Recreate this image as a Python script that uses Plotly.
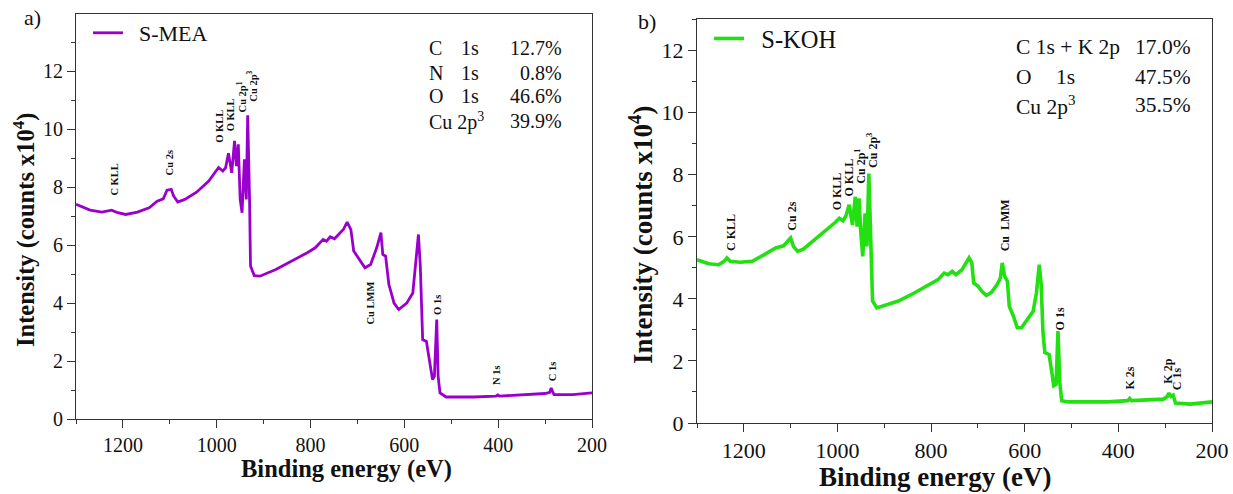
import plotly.graph_objects as go

W, H = 1233, 494

# ---------------- data ----------------
mea_be = [1300, 1270, 1245, 1224, 1211, 1194, 1169, 1144, 1127, 1114, 1106, 1097, 1092, 1083,
          1068, 1043, 1017, 1002, 996, 987, 981, 975, 968, 962, 958, 954, 950, 946, 941, 937,
          934, 930, 928, 920, 908, 874, 832, 807, 790, 773, 766, 758, 749, 739, 730, 722, 714,
          708, 701, 693, 684, 672, 659, 650, 646, 640, 633, 629, 622, 612, 595, 582, 576, 570,
          566, 561, 553, 549, 540, 536, 531, 528, 524, 511, 452, 405, 401, 397, 368, 300, 290,
          287, 284, 281, 241, 200]
mea_int = [7.41, 7.21, 7.14, 7.21, 7.12, 7.06, 7.14, 7.29, 7.52, 7.60, 7.90, 7.93, 7.70, 7.49,
           7.58, 7.83, 8.21, 8.53, 8.68, 8.56, 8.68, 9.17, 8.50, 9.60, 8.73, 9.48, 7.58, 7.12, 8.96, 7.58,
           10.48, 7.58, 5.28, 4.95, 4.93, 5.16, 5.51, 5.74, 5.91, 6.20, 6.14, 6.29, 6.22, 6.37, 6.54, 6.80, 6.54,
           5.80, 5.62, 5.45, 5.22, 5.33, 5.91, 6.43, 5.68, 5.62, 4.64, 4.41, 4.00, 3.78, 4.00, 4.35, 5.39, 6.37,
           5.28, 2.74, 2.68, 2.28, 1.36, 1.47, 3.43, 1.47, 0.90, 0.76, 0.76, 0.79, 0.83, 0.79, 0.81, 0.88, 0.92,
           1.07, 0.95, 0.84, 0.84, 0.90]

koh_be = [1300, 1275, 1254, 1242, 1236, 1229, 1208, 1182, 1157, 1132, 1115, 1106, 1100, 1094,
          1085, 1073, 1047, 1022, 1005, 996, 988, 982, 975, 968, 962, 958, 954, 950, 946, 941,
          937, 933, 929, 925, 916, 904, 870, 836, 802, 785, 772, 764, 755, 747, 734, 726, 719,
          713, 709, 700, 692, 682, 671, 659, 652, 648, 643, 637, 633, 624, 616, 607, 595, 582,
          575, 569, 565, 561, 557, 548, 542, 538, 533, 529, 525, 521, 506, 422, 380, 376, 372,
          304, 296, 292, 288, 283, 278, 246, 200]
koh_int = [5.26, 5.13, 5.10, 5.21, 5.32, 5.21, 5.18, 5.21, 5.42, 5.64, 5.71, 5.88, 5.96, 5.69,
           5.53, 5.60, 5.93, 6.22, 6.46, 6.60, 6.52, 6.67, 7.03, 6.38, 7.29, 6.33, 7.24, 6.12, 5.37, 6.76,
           5.69, 8.04, 5.69, 3.93, 3.71, 3.76, 3.93, 4.19, 4.46, 4.62, 4.83, 4.78, 4.89, 4.78, 4.94, 5.16, 5.32,
           5.16, 4.51, 4.41, 4.25, 4.11, 4.21, 4.46, 4.67, 5.16, 4.73, 4.57, 3.76, 3.44, 3.07, 3.07, 3.34, 3.60,
           4.19, 5.10, 4.51, 2.91, 2.27, 2.21, 1.63, 1.20, 1.25, 2.96, 1.30, 0.72, 0.68, 0.68, 0.72, 0.79, 0.72,
           0.77, 0.85, 0.96, 0.86, 0.90, 0.64, 0.61, 0.68]

mea_peak_labels = ["C KLL", "Cu 2s", "O KLL", "O KLL", "Cu 2p<sup>1</sup>", "Cu 2p<sup>3</sup>",
                   "Cu LMM", "O 1s", "N 1s", "C 1s"]
mea_peak_be = [1217, 1100, 993, 970, 948, 925, 673, 528, 405, 285]
mea_peak_y = [7.64, 8.35, 9.45, 9.87, 10.5, 10.9, 3.18, 3.53, 1.10, 1.24]

koh_peak_labels = ["C KLL", "Cu 2s", "O KLL", "O KLL", "Cu 2p<sup>1</sup>", "Cu 2p<sup>3</sup>",
                   "Cu  LMM", "O 1s", "K 2s", "K 2p", "C 1s"]
koh_peak_be = [1227, 1097, 1001, 975, 950, 924, 642, 525, 375, 294, 273]
koh_peak_y = [5.47, 6.12, 6.79, 7.24, 7.66, 8.14, 5.47, 2.93, 1.00, 1.22, 1.00]

mea_comp_el = ["C", "N", "O", "Cu 2p<sup>3</sup>"]
mea_comp_orb = ["1s", "1s", "1s", ""]
mea_comp_pct = ["12.7%", "0.8%", "46.6%", "39.9%"]

koh_comp_el = ["C 1s + K 2p", "O", "Cu 2p<sup>3</sup>"]
koh_comp_orb = ["", "1s", ""]
koh_comp_pct = ["17.0%", "47.5%", "35.5%"]

x_ticks = [1200, 1000, 800, 600, 400, 200]
y_ticks = [0, 2, 4, 6, 8, 10, 12]

# ---------------- layout helpers ----------------
def px(x):
    return x / W

def py(y):
    return 1 - y / H

SERIF = "Liberation Serif"
MEA_COLOR = "#9a00cc"
KOH_COLOR = "#22e011"
INK = "#111111"

fig = go.Figure()
fig.add_trace(go.Scatter(x=mea_be, y=mea_int, mode="lines", name="&nbsp;&nbsp;S-MEA",
                         line=dict(color=MEA_COLOR, width=2.8), xaxis="x", yaxis="y",
                         legend="legend"))
fig.add_trace(go.Scatter(x=koh_be, y=koh_int, mode="lines", name="&nbsp;&nbsp;S-KOH",
                         line=dict(color=KOH_COLOR, width=3.6), xaxis="x2", yaxis="y2",
                         legend="legend2"))

def xaxis(domain, anchor, fs):
    return dict(domain=domain, anchor=anchor, range=[1300, 200], tickvals=x_ticks,
                showline=True, mirror=True, linecolor="#333", linewidth=1,
                ticks="outside", ticklen=8, tickcolor="#333",
                minor=dict(dtick=100, tick0=0, ticks="outside", ticklen=4, tickcolor="#333"),
                showgrid=False, zeroline=False,
                tickfont=dict(family=SERIF, size=fs, color=INK))

def yaxis(domain, anchor, top, fs):
    return dict(domain=domain, anchor=anchor, range=[0, top], tickvals=y_ticks,
                showline=True, mirror=True, linecolor="#333", linewidth=1,
                ticks="outside", ticklen=8, tickcolor="#333",
                minor=dict(dtick=1, tick0=0, ticks="outside", ticklen=4, tickcolor="#333"),
                showgrid=False, zeroline=False,
                tickfont=dict(family=SERIF, size=fs, color=INK))

annotations = []

def txt(text, x, y, size, xanchor="left", yanchor="middle", angle=0, xref="paper", yref="paper"):
    return dict(text=text, x=x, y=y, xref=xref, yref=yref, textangle=angle,
                xanchor=xanchor, yanchor=yanchor, showarrow=False,
                font=dict(family=SERIF, size=size, color=INK))

# peak labels
for lab, x, y in zip(mea_peak_labels, mea_peak_be, mea_peak_y):
    annotations.append(txt("<b>%s</b>" % lab, x, y, 10.5, "center", "bottom", -90, "x", "y"))
for lab, x, y in zip(koh_peak_labels, koh_peak_be, koh_peak_y):
    annotations.append(txt("<b>%s</b>" % lab, x, y, 12, "center", "bottom", -90, "x2", "y2"))

# composition tables
mea_rows_y = [48, 73, 96, 121]
for el, orb, pct, ry in zip(mea_comp_el, mea_comp_orb, mea_comp_pct, mea_rows_y):
    annotations.append(txt(el, px(427), py(ry), 20))
    if orb:
        annotations.append(txt(orb, px(459), py(ry), 20))
    annotations.append(txt(pct, px(564), py(ry), 20, "right"))

koh_rows_y = [47, 77, 105]
for el, orb, pct, ry in zip(koh_comp_el, koh_comp_orb, koh_comp_pct, koh_rows_y):
    annotations.append(txt(el, px(1014), py(ry), 21.5))
    if orb:
        annotations.append(txt(orb, px(1054), py(ry), 21.5))
    annotations.append(txt(pct, px(1193), py(ry), 21.5, "right"))

# panel letters
annotations.append(txt("a)", px(22), py(17), 22))
annotations.append(txt("b)", px(636), py(22), 22))

# axis titles
annotations.append(txt("<b>Binding energy (eV)</b>", px(346), py(469), 24.5, "center"))
annotations.append(txt("<b>Binding energy (eV)</b>", px(935), py(477), 27, "center"))
annotations.append(txt("<b>Intensity (counts x10<sup>4</sup>)</b>", px(24), py(230), 24.5,
                       "center", "middle", -90))
annotations.append(txt("<b>Intensity (counts x10<sup>4</sup>)</b>", px(641), py(235), 27,
                       "center", "middle", -90))

fig.update_layout(
    width=W, height=H,
    margin=dict(l=0, r=0, t=0, b=0, autoexpand=False),
    paper_bgcolor="white", plot_bgcolor="white",
    font=dict(family=SERIF, color=INK),
    xaxis=xaxis([px(76), px(592)], "y", 20),
    yaxis=yaxis([1 - 419 / H, 1 - 14 / H], "x", 13.98, 20),
    xaxis2=xaxis([px(697), px(1212)], "y2", 22),
    yaxis2=yaxis([1 - 423 / H, 1 - 19 / H], "x2", 13.02, 22),
    legend=dict(x=px(88), y=py(12), xanchor="left", yanchor="top", bgcolor="rgba(0,0,0,0)",
                font=dict(family=SERIF, size=22, color=INK), itemwidth=30),
    legend2=dict(x=px(709), y=py(16), xanchor="left", yanchor="top", bgcolor="rgba(0,0,0,0)",
                 font=dict(family=SERIF, size=24.5, color=INK), itemwidth=30),
    annotations=annotations,
    showlegend=True,
)

fig.write_html("out.html")
